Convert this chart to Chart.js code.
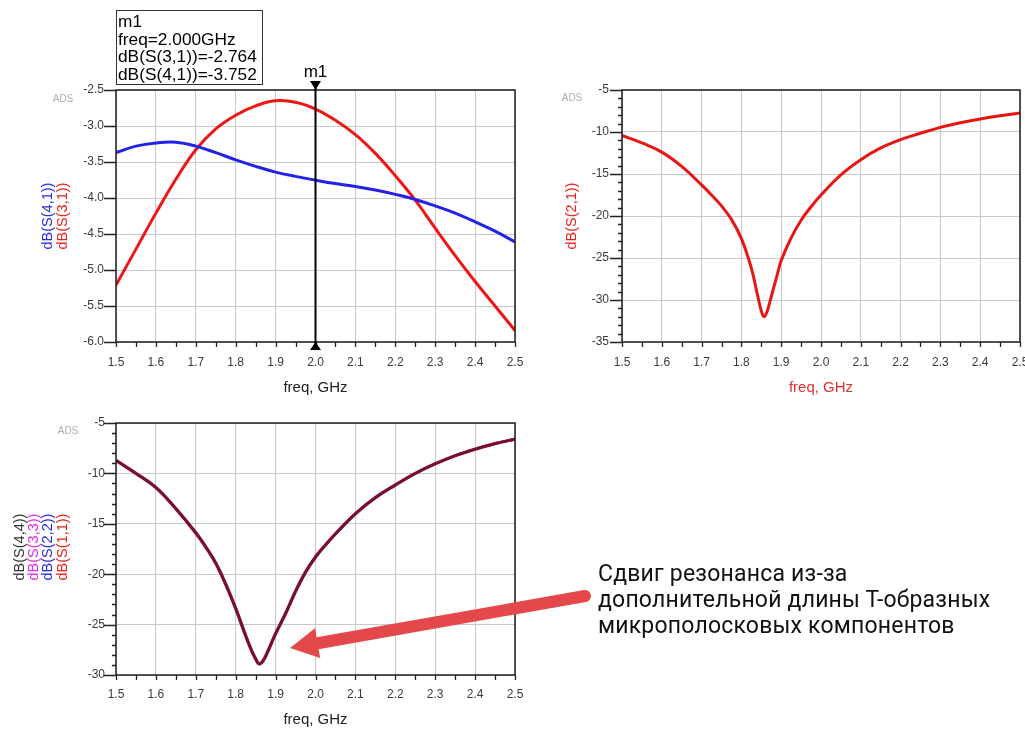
<!DOCTYPE html>
<html><head><meta charset="utf-8">
<script src="https://cdn.jsdelivr.net/npm/chart.js@4.4.0/dist/chart.umd.min.js"></script>
<style>
html,body{margin:0;padding:0;background:#fff;overflow:hidden;width:1025px;height:731px;}
#wrap{position:relative;width:1025px;height:731px;overflow:hidden;background:#fff;}
canvas{position:absolute;}
#c1{left:0;top:60px;}
#c2{left:540px;top:80px;}
#c3{left:0;top:410px;}
#mbox{position:absolute;left:116px;top:10px;width:147px;height:75px;border:1.5px solid #333;box-sizing:border-box;
 font-family:"Liberation Sans",Arial,sans-serif;font-size:17.3px;line-height:17.5px;color:#000;padding:2px 0 0 1px;white-space:nowrap;}
#note{position:absolute;left:598px;top:561px;font-family:Roboto,"Noto Sans",sans-serif;font-size:23px;line-height:26px;letter-spacing:0.2px;color:#111;white-space:nowrap;}
#arrow{position:absolute;left:0;top:0;}
</style></head>
<body><div id="wrap">
<canvas id="c1" width="540" height="340"></canvas>
<canvas id="c2" width="500" height="320"></canvas>
<canvas id="c3" width="540" height="320"></canvas>
<div id="mbox">m1<br>freq=2.000GHz<br>dB(S(3,1))=-2.764<br>dB(S(4,1))=-3.752</div>
<svg id="arrow" width="1025" height="731"><line x1="585" y1="596" x2="319" y2="643" stroke="#e5484b" stroke-width="12" stroke-linecap="round"/><polygon points="290,648 315,628.3 320.2,657.9" fill="#e5484b"/></svg>
<div id="note">Сдвиг резонанса из-за<br>дополнительной длины Т-образных<br>микрополосковых компонентов</div>
</div>
<script>
// ---------- data ----------
const freqA = [1.5,1.55,1.6,1.65,1.7,1.75,1.8,1.85,1.9,1.95,2.0,2.05,2.1,2.15,2.2,2.25,2.3,2.35,2.4,2.45,2.5];
const s31 = [-5.21,-4.71,-4.21,-3.74,-3.33,-3.04,-2.85,-2.72,-2.65,-2.67,-2.764,-2.92,-3.12,-3.38,-3.69,-4.03,-4.42,-4.80,-5.16,-5.50,-5.84];
const s41 = [-3.37,-3.28,-3.235,-3.225,-3.28,-3.37,-3.47,-3.56,-3.64,-3.70,-3.752,-3.80,-3.84,-3.89,-3.95,-4.02,-4.11,-4.21,-4.33,-4.46,-4.61];

const freqB = [1.5,1.55,1.6,1.65,1.7,1.725,1.75,1.775,1.8,1.825,1.84,1.85,1.857,1.865,1.875,1.89,1.9,1.925,1.95,1.975,2.0,2.05,2.1,2.15,2.2,2.25,2.3,2.35,2.4,2.45,2.5];
const s21 = [-10.4,-11.3,-12.4,-14.1,-16.3,-17.5,-18.8,-20.4,-22.7,-26.2,-29.3,-31.3,-32.0,-31.3,-29.6,-27.0,-25.3,-22.6,-20.5,-18.9,-17.5,-15.1,-13.3,-11.9,-10.9,-10.15,-9.45,-8.9,-8.45,-8.07,-7.75];

const freqC = [1.5,1.55,1.6,1.65,1.7,1.725,1.75,1.775,1.8,1.825,1.84,1.85,1.859,1.87,1.88,1.9,1.925,1.95,1.975,2.0,2.025,2.05,2.1,2.15,2.2,2.25,2.3,2.35,2.4,2.45,2.5];
// S(1,1), S(2,2), S(3,3), S(4,4) coincide on the plot
const s11 = [-8.7,-10.0,-11.4,-13.5,-15.9,-17.3,-18.9,-21.0,-23.4,-26.1,-27.6,-28.4,-28.9,-28.5,-27.7,-25.9,-23.9,-21.7,-19.8,-18.3,-17.1,-16.0,-14.0,-12.4,-11.15,-10.0,-9.05,-8.25,-7.6,-7.05,-6.6];
const s22 = s11, s33 = s11, s44 = s11;

const xTickVals = [1.5,1.6,1.7,1.8,1.9,2.0,2.1,2.2,2.3,2.4,2.5];
const yTicksA = [-6.0,-5.5,-5.0,-4.5,-4.0,-3.5,-3.0,-2.5];
const yTicksB = [-35,-30,-25,-20,-15,-10,-5];
const yTicksC = [-30,-25,-20,-15,-10,-5];
const markerFreq = 2.0;

// ---------- helpers ----------
Chart.defaults.font.family = '"Liberation Sans", Arial, sans-serif';
const pts = (xs, ys) => xs.map((x, i) => ({x, y: ys[i]}));

const adsPlugin = {
  id: 'ads',
  afterDraw(chart, args, o) {
    const {ctx, chartArea: a, scales: {x, y}} = chart;
    ctx.save();
    ctx.strokeStyle = '#222'; ctx.lineWidth = 1.3;
    ctx.beginPath();
    for (let v = 1.5; v <= 2.5001; v += 0.05) {
      const px = Math.round(x.getPixelForValue(v)) + 0.5;
      ctx.moveTo(px, a.bottom); ctx.lineTo(px, a.bottom + 5);
    }
    for (const v of o.yMajor) {
      const py = Math.round(y.getPixelForValue(v)) + 0.5;
      ctx.moveTo(a.left - 12, py); ctx.lineTo(a.left, py);
    }
    if (o.yMinor) {
      for (let v = o.yMajor[0]; v <= o.yMajor[o.yMajor.length - 1]; v += o.yMinor) {
        const py = Math.round(y.getPixelForValue(v)) + 0.5;
        ctx.moveTo(a.left - 4, py); ctx.lineTo(a.left, py);
      }
    }
    ctx.stroke();
    ctx.strokeStyle = '#1e1e1e'; ctx.lineWidth = 1.5;
    ctx.strokeRect(a.left, a.top, a.right - a.left, a.bottom - a.top);
    ctx.fillStyle = '#b0b0b0'; ctx.font = '10px "Liberation Sans", Arial, sans-serif';
    ctx.textAlign = 'center'; ctx.textBaseline = 'middle';
    ctx.fillText('ADS', o.ads[0], a.top + o.ads[1]);
    ctx.font = '14.5px "Liberation Sans", Arial, sans-serif';
    const ty = (a.top + a.bottom) / 2 + o.titleDy;
    for (const t of o.titles) {
      ctx.save();
      ctx.translate(t.x, ty);
      ctx.rotate(-Math.PI / 2);
      ctx.fillStyle = t.color;
      ctx.fillText(t.text, 0, 0);
      ctx.restore();
    }
    if (o.marker) {
      const px = x.getPixelForValue(o.marker.x);
      ctx.strokeStyle = '#000'; ctx.lineWidth = 2;
      ctx.beginPath(); ctx.moveTo(px, a.top - 6); ctx.lineTo(px, a.bottom + 6); ctx.stroke();
      ctx.fillStyle = '#000';
      ctx.beginPath(); ctx.moveTo(px, a.top); ctx.lineTo(px - 5.5, a.top - 9); ctx.lineTo(px + 5.5, a.top - 9); ctx.closePath(); ctx.fill();
      ctx.beginPath(); ctx.moveTo(px, a.bottom); ctx.lineTo(px - 5.5, a.bottom + 8); ctx.lineTo(px + 5.5, a.bottom + 8); ctx.closePath(); ctx.fill();
      ctx.font = '17px "Liberation Sans", Arial, sans-serif';
      ctx.fillText(o.marker.label, px, a.top - 18);
    }
    ctx.restore();
  }
};

function makeChart(id, cfg) {
  return new Chart(document.getElementById(id), {
    type: 'line',
    data: {datasets: cfg.datasets},
    options: {
      responsive: false, animation: false,
      layout: {padding: cfg.padding},
      plugins: {legend: {display: false}, tooltip: {enabled: false}, ads: cfg.ads},
      elements: {point: {radius: 0}, line: {cubicInterpolationMode: 'default', tension: 0.4}},
      scales: {
        x: {
          type: 'linear', min: 1.5, max: 2.5,
          afterBuildTicks: s => { s.ticks = xTickVals.map(v => ({value: v})); },
          afterFit: s => { s.height = cfg.xH; s.paddingLeft = 0; s.paddingRight = 0; },
          grid: {color: '#c8c8c8', lineWidth: 1, drawTicks: false},
          border: {display: false},
          ticks: {padding: cfg.xPad, color: '#3a3a3a', font: {size: 12}, maxRotation: 0, callback: v => v.toFixed(1)},
          title: {display: true, text: 'freq, GHz', color: cfg.xTitleColor, font: {size: 15}, padding: {top: 0, bottom: cfg.xTitlePad}}
        },
        y: {
          type: 'linear', min: cfg.yTicks[0], max: cfg.yTicks[cfg.yTicks.length - 1],
          afterBuildTicks: s => { s.ticks = cfg.yTicks.map(v => ({value: v})); },
          afterFit: s => { s.width = cfg.yW; s.paddingTop = 0; s.paddingBottom = 0; },
          grid: {color: '#c8c8c8', lineWidth: 1, drawTicks: false},
          border: {display: false},
          ticks: {padding: cfg.yPad, color: '#3a3a3a', font: {size: 12}, callback: v => v.toFixed(cfg.yDec)}
        }
      }
    },
    plugins: [adsPlugin]
  });
}

// ---------- chart 1 ----------
makeChart('c1', {
  datasets: [
    {label: 'dB(S(4,1))', data: pts(freqA, s41), borderColor: '#2222e8', borderWidth: 3},
    {label: 'dB(S(3,1))', data: pts(freqA, s31), borderColor: '#ee1515', borderWidth: 3}
  ],
  padding: {top: 30, right: 25, left: 0, bottom: 0},
  xH: 58, yW: 116, xPad: 13, yPad: 12, yDec: 1, xTitlePad: 3, xTitleColor: '#222',
  yTicks: yTicksA,
  ads: {yMajor: yTicksA, yMinor: 0, ads: [63, 9.5], titleDy: 0,
    titles: [{text: 'dB(S(4,1))', color: '#2a2ae0', x: 48}, {text: 'dB(S(3,1))', color: '#e82020', x: 63}],
    marker: {x: markerFreq, label: 'm1'}}
});

// ---------- chart 2 ----------
makeChart('c2', {
  datasets: [
    {label: 'dB(S(2,1))', data: pts(freqB, s21), borderColor: '#e81515', borderWidth: 3}
  ],
  padding: {top: 10, right: 20, left: 0, bottom: 0},
  xH: 58, yW: 82, xPad: 13, yPad: 13, yDec: 0, xTitlePad: 3, xTitleColor: '#e03030',
  yTicks: yTicksB,
  ads: {yMajor: yTicksB, yMinor: 1, ads: [32, 8.5], titleDy: 0,
    titles: [{text: 'dB(S(2,1))', color: '#e82020', x: 32}]}
});

// ---------- chart 3 (first dataset is drawn on top) ----------
makeChart('c3', {
  datasets: [
    {label: 'dB(S(4,4))', data: pts(freqC, s44), borderColor: '#741322', borderWidth: 2.8},
    {label: 'dB(S(3,3))', data: pts(freqC, s33), borderColor: '#b0209a', borderWidth: 3.3},
    {label: 'dB(S(2,2))', data: pts(freqC, s22), borderColor: '#2a2ad0', borderWidth: 2},
    {label: 'dB(S(1,1))', data: pts(freqC, s11), borderColor: '#e01a1a', borderWidth: 2}
  ],
  padding: {top: 13, right: 25, left: 0, bottom: 0},
  xH: 55, yW: 116, xPad: 12, yPad: 11, yDec: 0, xTitlePad: 1, xTitleColor: '#222',
  yTicks: yTicksC,
  ads: {yMajor: yTicksC, yMinor: 1, ads: [68, 8], titleDy: -2,
    titles: [{text: 'dB(S(4,4))', color: '#333', x: 20}, {text: 'dB(S(3,3))', color: '#e030e0', x: 34},
             {text: 'dB(S(2,2))', color: '#2a2ad8', x: 48}, {text: 'dB(S(1,1))', color: '#e82020', x: 63}]}
});
</script>
</body></html>
